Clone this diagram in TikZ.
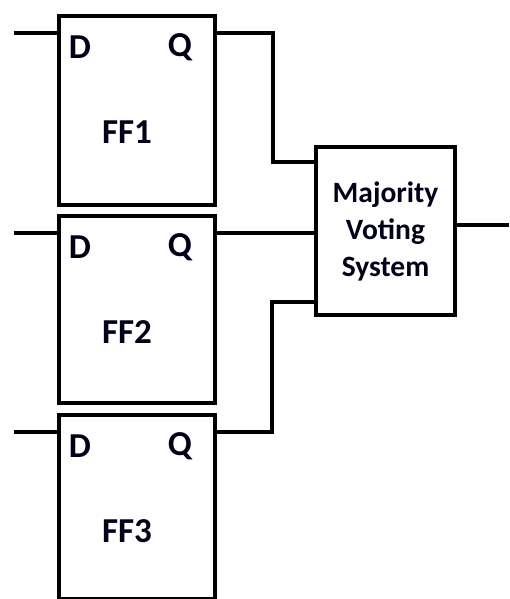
\documentclass[tikz,border=0pt]{standalone}
\usepackage{fontspec}
\setmainfont{Carlito}
\begin{document}
\begin{tikzpicture}[x=1pt,y=-1pt,
  wire/.style={line width=4pt},
  ffbox/.style={draw,line width=4pt,minimum width=156pt,inner sep=0pt,anchor=north west},
  lbl/.style={font=\bfseries\fontsize{35}{35}\selectfont,text=black!90!blue},
  mvs/.style={draw,line width=4pt,minimum width=139pt,minimum height=168pt,inner sep=0pt,align=center,font=\bfseries\fontsize{29.5}{37}\selectfont,text=black!90!blue}]
\useasboundingbox (0,0) rectangle (509,599);
\node[ffbox,minimum height=189pt] (ff1) at (57,14) {};
\node[ffbox,minimum height=187pt] (ff2) at (57,214) {};
\node[ffbox,minimum height=184pt] (ff3) at (57,413) {};
\foreach \f/\n in {ff1/FF1,ff2/FF2,ff3/FF3}{
  \node[lbl] (\f d) at ([xshift=23pt,yshift=-33pt]\f.north west) {D};
  \node[lbl] (\f q) at ([xshift=-37pt,yshift=-33pt]\f.north east) {Q};
  \node[lbl] (\f n) at ([xshift=-10pt,yshift=-118pt]\f.north) {\n};
  \coordinate (\f in) at ([yshift=-19pt]\f.north west);
  \coordinate (\f out) at ([yshift=-19pt]\f.north east);
}
\node[mvs] (mv) at (385.5,231) {Majority\\Voting\\System};
\coordinate (i1) at (14,33);
\coordinate (i2) at (14,233);
\coordinate (i3) at (14,432);
\coordinate (o) at (509,225);
\draw[wire] (i1) -- (ff1in);
\draw[wire] (i2) -- (ff2in);
\draw[wire] (i3) -- (ff3in);
\draw[wire] (ff1out) -| (273,162) -- (mv.west |- 0,162);
\draw[wire] (ff2out) -- (mv.west |- ff2out);
\draw[wire] (ff3out) -| (272,302) -- (mv.west |- 0,302);
\draw[wire] (mv.east |- o) -- (o);
\end{tikzpicture}
\end{document}
